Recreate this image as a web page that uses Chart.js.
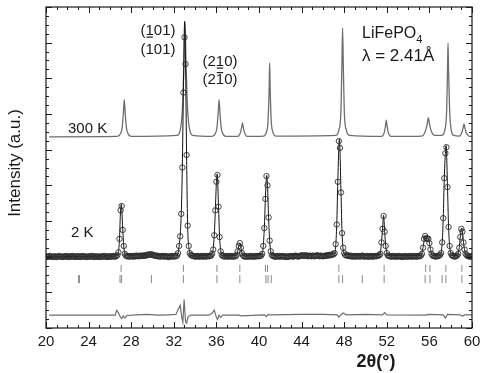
<!DOCTYPE html>
<html>
<head>
<meta charset="utf-8">
<script src="https://cdn.jsdelivr.net/npm/chart.js@4.4.0/dist/chart.umd.min.js"></script>
<style>
  html, body { margin: 0; padding: 0; background: #fff; }
  canvas { display: block; }
</style>
</head>
<body>
<canvas id="chart" width="481" height="373"></canvas>
<script>
// 2K observed intensities, one row per degree: 2θ = deg.0 ... deg.9 (step 0.1)
const obs2K = [
  /*20*/ 2.01,2.00,1.99,2.01,2.02,2.00,1.99,2.00,2.01,2.00,
  /*21*/ 1.99,2.00,2.02,2.01,2.00,1.99,2.00,2.01,2.00,2.02,
  /*22*/ 2.00,1.99,2.01,2.00,2.00,2.02,2.01,1.99,2.00,2.01,
  /*23*/ 2.00,2.01,1.99,2.00,2.02,2.00,2.01,2.00,1.99,2.00,
  /*24*/ 2.01,2.00,2.00,2.02,2.01,1.99,2.00,2.01,2.00,2.00,
  /*25*/ 1.99,2.01,2.00,2.00,2.01,2.02,2.00,1.99,2.01,2.00,
  /*26*/ 2.00,2.01,2.00,2.02,2.01,2.00,2.02,2.04,2.12,2.50,
  /*27*/ 3.30,3.42,2.75,2.30,2.08,2.03,2.01,2.02,2.00,2.01,
  /*28*/ 2.02,2.01,2.00,2.02,2.01,2.03,2.02,2.01,2.02,2.03,
  /*29*/ 2.02,2.03,2.02,2.04,2.03,2.05,2.06,2.05,2.06,2.07,
  /*30*/ 2.05,2.04,2.03,2.02,2.03,2.01,2.02,2.00,2.01,2.02,
  /*31*/ 2.01,2.00,2.02,2.01,2.00,1.99,2.01,2.00,2.02,2.01,
  /*32*/ 2.00,2.02,2.01,2.03,2.10,2.30,2.57,3.20,4.50,6.60,
  /*33*/ 8.15,7.40,4.85,2.87,2.30,2.10,2.05,2.03,2.02,2.01,
  /*34*/ 2.01,2.00,2.02,2.01,2.00,2.01,2.02,2.00,2.01,2.02,
  /*35*/ 2.00,2.01,2.02,2.01,2.02,2.03,2.08,2.20,2.60,3.30,
  /*36*/ 4.10,4.29,3.40,2.55,2.15,2.05,2.02,2.01,2.00,2.02,
  /*37*/ 2.01,2.00,2.01,2.02,2.00,2.01,2.00,2.02,2.01,2.05,
  /*38*/ 2.15,2.30,2.38,2.25,2.10,2.03,2.01,2.00,2.01,2.00,
  /*39*/ 2.01,2.00,2.02,2.01,2.00,2.01,2.00,2.02,2.01,2.02,
  /*40*/ 2.01,2.02,2.03,2.08,2.30,2.80,3.62,4.26,4.00,3.10,
  /*41*/ 2.45,2.15,2.05,2.02,2.01,2.00,2.01,2.00,2.02,2.01,
  /*42*/ 2.00,2.01,2.02,2.00,2.01,2.00,1.99,2.01,2.00,2.01,
  /*43*/ 2.02,2.01,2.00,2.01,2.03,2.02,2.01,2.00,2.02,2.03,
  /*44*/ 2.02,2.04,2.03,2.02,2.04,2.03,2.01,2.02,2.03,2.01,
  /*45*/ 2.02,2.03,2.01,2.02,2.03,2.04,2.02,2.01,2.03,2.02,
  /*46*/ 2.01,2.02,2.03,2.02,2.04,2.03,2.05,2.04,2.05,2.07,
  /*47*/ 2.06,2.10,2.35,2.90,4.10,5.24,5.05,3.80,2.66,2.25,
  /*48*/ 2.10,2.05,2.03,2.04,2.02,2.03,2.01,2.02,2.00,2.01,
  /*49*/ 2.02,2.00,2.01,2.02,2.01,2.00,2.02,2.03,2.01,2.00,
  /*50*/ 2.01,2.02,2.00,2.01,2.00,2.02,2.01,2.00,2.01,2.02,
  /*51*/ 2.01,2.02,2.03,2.04,2.08,2.40,2.78,3.14,2.70,2.30,
  /*52*/ 2.10,2.03,2.02,2.01,2.00,2.01,2.02,2.00,2.01,2.00,
  /*53*/ 2.01,2.02,2.00,2.01,2.00,1.99,2.01,2.02,2.00,2.01,
  /*54*/ 2.00,2.01,2.02,2.00,2.01,2.00,2.02,2.01,2.00,2.01,
  /*55*/ 2.02,2.01,2.03,2.08,2.25,2.50,2.58,2.52,2.50,2.50,
  /*56*/ 2.38,2.20,2.08,2.03,2.02,2.01,2.00,2.02,2.01,2.03,
  /*57*/ 2.05,2.10,2.40,3.08,4.20,4.90,5.07,3.95,2.83,2.30,
  /*58*/ 2.10,2.04,2.02,2.01,2.00,2.02,2.03,2.08,2.25,2.55,
  /*59*/ 2.78,2.70,2.40,2.20,2.08,2.04,2.02,2.01,2.00,2.01,
  /*60*/ 2.00
];
const obsStart = 20.0;
const obsStep = 0.1;

// 2K calculated profile
const tCalc = [20.0, 26.6, 26.8, 26.9, 27.0, 27.07, 27.2, 27.3, 27.45,
  32.3, 32.5, 32.7, 32.8, 32.9, 33.02, 33.1, 33.2, 33.3, 33.45, 33.7,
  35.6, 35.8, 35.9, 36.0, 36.07, 36.2, 36.3, 36.45, 36.6,
  37.9, 38.0, 38.2, 38.4, 38.55,
  40.3, 40.5, 40.6, 40.72, 40.8, 40.9, 41.0, 41.2,
  47.1, 47.3, 47.4, 47.55, 47.7, 47.8, 48.05,
  51.35, 51.5, 51.6, 51.7, 51.8, 51.9, 52.1,
  55.2, 55.4, 55.6, 55.75, 55.9, 56.0, 56.1, 56.3,
  57.05, 57.2, 57.3, 57.4, 57.57, 57.7, 57.8, 57.9, 58.1,
  58.6, 58.8, 58.9, 59.04, 59.1, 59.2, 59.3, 59.5, 60.0];
const iCalc = [2.0, 2.02, 2.12, 2.5, 3.3, 3.47, 2.8, 2.3, 2.05,
  2.05, 2.3, 3.2, 4.5, 6.6, 8.6, 7.5, 4.85, 2.87, 2.2, 2.02,
  2.08, 2.6, 3.3, 4.1, 4.32, 3.4, 2.55, 2.1, 2.02,
  2.04, 2.15, 2.39, 2.1, 2.02,
  2.08, 2.8, 3.62, 4.28, 4.0, 3.1, 2.45, 2.05,
  2.08, 2.9, 4.1, 5.3, 3.8, 2.66, 2.06,
  2.05, 2.4, 2.78, 3.16, 2.7, 2.3, 2.04,
  2.03, 2.25, 2.58, 2.5, 2.5, 2.38, 2.2, 2.03,
  2.06, 2.4, 3.08, 4.2, 5.12, 3.95, 2.83, 2.3, 2.04,
  2.03, 2.25, 2.55, 2.8, 2.7, 2.4, 2.2, 2.03, 2.0];

// 300 K pattern (offset)
const t300 = [20.3,
  26.7, 27.0, 27.15, 27.27, 27.35, 27.43, 27.55, 27.7, 28.0,
  32.3, 32.6, 32.8, 32.95, 33.05, 33.15, 33.3, 33.5, 33.8,
  35.6, 35.9, 36.05, 36.17, 36.25, 36.33, 36.45, 36.6, 36.9,
  38.0, 38.25, 38.37, 38.45, 38.53, 38.65, 38.9,
  40.4, 40.7, 40.85, 40.95, 41.0, 41.05, 41.15, 41.3, 41.6,
  47.2, 47.5, 47.68, 47.78, 47.85, 47.92, 48.02, 48.2, 48.5,
  51.5, 51.75, 51.87, 51.95, 52.03, 52.15, 52.4,
  55.3, 55.6, 55.78, 55.9, 56.02, 56.2, 56.5,
  57.15, 57.45, 57.62, 57.7, 57.75, 57.8, 57.9, 58.05, 58.3,
  58.8, 59.05, 59.17, 59.25, 59.33, 59.45, 59.7, 60.0];
const i300 = [5.36,
  5.37, 5.45, 5.62, 6.05, 6.4, 6.05, 5.62, 5.45, 5.37,
  5.4, 5.55, 6.1, 7.4, 8.55, 7.4, 6.1, 5.55, 5.4,
  5.37, 5.45, 5.62, 6.05, 6.4, 6.05, 5.62, 5.45, 5.37,
  5.37, 5.47, 5.62, 5.75, 5.62, 5.47, 5.37,
  5.38, 5.5, 5.8, 6.7, 7.43, 6.7, 5.8, 5.5, 5.38,
  5.4, 5.55, 6.0, 7.3, 8.41, 7.3, 6.0, 5.55, 5.4,
  5.37, 5.47, 5.65, 5.83, 5.65, 5.47, 5.37,
  5.38, 5.5, 5.7, 5.89, 5.7, 5.5, 5.4,
  5.4, 5.55, 6.1, 7.2, 7.99, 7.2, 6.1, 5.55, 5.4,
  5.38, 5.48, 5.62, 5.72, 5.62, 5.48, 5.38, 5.37];

// obs - calc difference (offset)
const tDiff = [20.3, 26.5, 26.65, 26.8, 27.0, 27.1, 27.25, 27.4, 27.6, 28.5, 29.5, 30.5, 31.5,
  32.2, 32.45, 32.6, 32.75, 32.85, 32.97, 33.1, 33.2, 33.35, 33.6,
  35.3, 35.6, 35.8, 36.0, 36.1, 36.25, 36.4, 36.6, 38.1, 38.3,
  40.5, 40.7, 40.85, 41.0, 44.0, 46.0, 47.35, 47.5, 47.65, 47.9, 48.2, 50.0,
  51.6, 51.8, 52.0, 55.6, 55.9, 57.3, 57.5, 57.7, 58.9, 59.1, 59.3, 60.0];
const iDiff = [0.36, 0.36, 0.5, 0.42, 0.3, 0.26, 0.34, 0.28, 0.35, 0.37, 0.38, 0.36, 0.37,
  0.38, 0.55, 0.64, 0.3, 0.16, 0.8, 0.18, 0.14, 0.32, 0.36,
  0.36, 0.42, 0.5, 0.3, 0.24, 0.36, 0.3, 0.36, 0.36, 0.34,
  0.37, 0.32, 0.38, 0.37, 0.38, 0.38, 0.37, 0.3, 0.36, 0.42, 0.37, 0.38,
  0.37, 0.43, 0.37, 0.36, 0.38, 0.37, 0.28, 0.38, 0.37, 0.33, 0.37, 0.37];

// Bragg reflection positions, two phases / rows
const braggA = [27.05, 32.9, 36.05, 38.2, 40.6, 40.8, 47.5, 51.75, 55.65, 56.05, 57.55, 59.05];
const braggB = [23.1, 26.95, 27.1, 29.9, 32.9, 36.05, 38.2, 40.65, 40.85, 41.15, 47.5, 47.85,
  49.7, 51.75, 55.6, 56.05, 57.2, 57.55, 59.05];
const ROW_A = 1.67, ROW_B = 1.37;

const xTicks = [20, 24, 28, 32, 36, 40, 44, 48, 52, 56, 60];

const FONT = '"Liberation Sans", Arial, Helvetica, sans-serif';
const INK = '#1a1a1a';
const GREY = '#6e6e6e';

const pairs = (xs, ys) => xs.map((x, i) => ({ x, y: ys[i] }));
const obsPoints = obs2K.map((y, i) => ({ x: +(obsStart + i * obsStep).toFixed(1), y }));

// frame, inward ticks and text labels
const decor = {
  id: 'decor',
  afterDraw(chart) {
    const { ctx, chartArea: a, scales: { x, y } } = chart;
    ctx.save();
    ctx.strokeStyle = INK;
    ctx.lineWidth = 1.2;
    ctx.strokeRect(a.left, a.top, a.right - a.left, a.bottom - a.top);

    ctx.lineWidth = 1;
    ctx.beginPath();
    for (let v = 20; v <= 60; v++) {
      const px = Math.round(x.getPixelForValue(v)) + 0.5;
      const len = v % 4 === 0 ? 6 : 3;
      ctx.moveTo(px, a.bottom); ctx.lineTo(px, a.bottom - len);
      ctx.moveTo(px, a.top); ctx.lineTo(px, a.top + len);
    }
    for (let i = 0; i <= 36; i++) {
      const py = Math.round(y.getPixelForValue(i / 4)) + 0.5;
      const len = i % 4 === 0 ? 6 : 3;
      ctx.moveTo(a.left, py); ctx.lineTo(a.left + len, py);
      ctx.moveTo(a.right, py); ctx.lineTo(a.right - len, py);
    }
    ctx.stroke();

    ctx.fillStyle = INK;
    ctx.textBaseline = 'alphabetic';

    // miller indices with bars
    const hkl = (txt, cx, base, barIdx, under) => {
      ctx.font = '15px ' + FONT;
      const w = ctx.measureText(txt).width;
      const x0 = cx - w / 2;
      ctx.textAlign = 'left';
      ctx.fillText(txt, x0, base);
      if (barIdx >= 0) {
        const pre = ctx.measureText(txt.slice(0, barIdx)).width;
        const cw = ctx.measureText(txt[barIdx]).width;
        const by = under ? base + 1.5 : base - 12;
        ctx.fillRect(x0 + pre + 1, by, cw - 2, 1.2);
      }
    };
    hkl('(101)', 158, 35, 1, true);
    hkl('(101)', 158, 54, -1, false);
    hkl('(210)', 220, 66, 2, true);
    hkl('(210)', 220, 84, 2, false);

    ctx.font = '15px ' + FONT;
    ctx.textAlign = 'left';
    ctx.fillText('300 K', 68, 133);
    ctx.fillText('2 K', 71, 237);

    ctx.font = '16px ' + FONT;
    ctx.fillText('LiFePO', 362, 38);
    const lw = ctx.measureText('LiFePO').width;
    ctx.font = '11px ' + FONT;
    ctx.fillText('4', 362 + lw, 43);
    ctx.font = '17px ' + FONT;
    ctx.fillText('λ = 2.41Å', 362, 61);

    ctx.font = 'bold 18px ' + FONT;
    ctx.textAlign = 'center';
    ctx.textBaseline = 'middle';
    ctx.fillText('2θ(°)', 376, 362);

    ctx.save();
    ctx.translate(15, 163);
    ctx.rotate(-Math.PI / 2);
    ctx.font = '17px ' + FONT;
    ctx.fillText('Intensity (a.u.)', 0, 0);
    ctx.restore();

    ctx.restore();
  }
};

new Chart(document.getElementById('chart'), {
  type: 'scatter',
  data: {
    datasets: [
      {
        label: '2 K obs',
        data: obsPoints,
        showLine: false,
        pointStyle: 'circle',
        pointRadius: 2.7,
        pointBorderWidth: 0.9,
        pointBorderColor: '#2e2e2e',
        pointBackgroundColor: 'rgba(0,0,0,0)'
      },
      {
        label: '2 K calc',
        data: pairs(tCalc, iCalc),
        showLine: true,
        borderColor: '#111',
        borderWidth: 1,
        pointRadius: 0,
        cubicInterpolationMode: 'monotone'
      },
      {
        label: '300 K',
        data: pairs(t300, i300),
        showLine: true,
        borderColor: GREY,
        borderWidth: 1.3,
        pointRadius: 0,
        cubicInterpolationMode: 'monotone'
      },
      {
        label: 'Bragg A',
        data: braggA.map(x => ({ x, y: ROW_A })),
        showLine: false,
        pointStyle: 'line',
        rotation: 90,
        pointRadius: 3.5,
        pointBorderWidth: 1,
        pointBorderColor: '#888'
      },
      {
        label: 'Bragg B',
        data: braggB.map(x => ({ x, y: ROW_B })),
        showLine: false,
        pointStyle: 'line',
        rotation: 90,
        pointRadius: 4,
        pointBorderWidth: 1,
        pointBorderColor: braggB.map(x => x < 25 ? '#222' : '#888')
      },
      {
        label: 'difference',
        data: pairs(tDiff, iDiff),
        showLine: true,
        borderColor: GREY,
        borderWidth: 1.2,
        pointRadius: 0,
        tension: 0
      }
    ]
  },
  options: {
    responsive: false,
    animation: false,
    events: [],
    layout: { padding: { top: 7, right: 9, left: 0, bottom: 0 } },
    plugins: { legend: { display: false }, tooltip: { enabled: false } },
    scales: {
      x: {
        type: 'linear',
        min: 20,
        max: 60,
        afterBuildTicks: s => { s.ticks = xTicks.map(value => ({ value })); },
        ticks: {
          autoSkip: false,
          maxRotation: 0,
          padding: -3,
          color: INK,
          font: { family: FONT, size: 15 }
        },
        grid: { display: false },
        border: { display: false },
        afterFit: s => { s.height = 45; }
      },
      y: {
        min: 0,
        max: 9,
        ticks: { display: false },
        grid: { display: false },
        border: { display: false },
        afterFit: s => { s.width = 46; }
      }
    }
  },
  plugins: [decor]
});
</script>
</body>
</html>
